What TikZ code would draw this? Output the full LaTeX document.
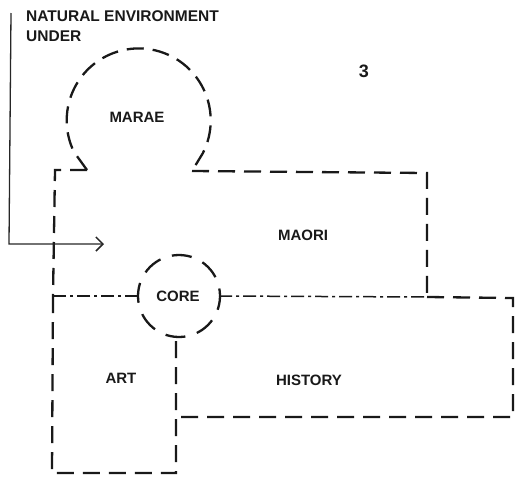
\documentclass[tikz,border=0pt]{standalone}
\usepackage{fontspec}
\setmainfont{Liberation Sans}
\usetikzlibrary{arrows.meta}
\tikzset{
  label/.style={font=\bfseries\fontsize{15}{18}\selectfont, inner sep=0pt, text=black!90},
  bound/.style={draw=black!90, line width=2.3pt, dash pattern=on 17pt off 9pt, line join=miter},
  seam/.style={draw=black!90, line width=1.5pt, dash pattern=on 13pt off 4pt on 3pt off 4pt},
  flow/.style={draw=black!85, line width=1.3pt, -{Straight Barb[length=7pt,width=14pt,line width=1.5pt]}}
}
\begin{document}
\begin{tikzpicture}[x=1pt,y=-1pt]
  \useasboundingbox (0,0) rectangle (519,480);

  % labels
  \node[label, anchor=north west, align=left, font=\bfseries\fontsize{15.5}{20}\selectfont] (nat) at (26,10) {NATURAL ENVIRONMENT\\UNDER};
  \node[label, font=\bfseries\fontsize{18}{20}\selectfont] (num) at (364,71) {3};
  \node[label] (marae) at (137,117) {MARAE};
  \node[label] (maori) at (303,235) {MAORI};
  \node[label] (core) at (178,296) {CORE};
  \node[label] (art) at (121,378) {ART};
  \node[label] (history) at (309,380) {HISTORY};

  % key points of the outlines
  \coordinate (mnL) at (87,170);
  \coordinate (mnR) at (192,171);
  \coordinate (mTL) at (55,170);
  \coordinate (mTR) at (427,173);
  \coordinate (mBR) at (427,297);
  \coordinate (aTL) at (53,296);
  \coordinate (aBL) at (52,473);
  \coordinate (aBR) at (176,473);
  \coordinate (aTR) at (176,337);
  \coordinate (hBL) at (176,417);
  \coordinate (hTR) at (513,298);
  \coordinate (hBR) at (513,417);
  \coordinate (cL) at (138,296);
  \coordinate (cR) at (219,296);

  % marae: open circle with a neck into the maori block
  \draw[bound] (mnL) -- (74,152) arc[start angle=154, end angle=387, radius=72] -- (mnR);

  % maori block
  \draw[bound] (mnL) -- (mTL) -- (aTL);
  \draw[bound] (mnR) -- (mTR) -- (mBR);

  % core circle
  \draw[bound, dash pattern=on 20pt off 12pt, dash phase=6pt] (179,296) circle[radius=41];

  % art block
  \draw[seam] (cL) -- (aTL);
  \draw[bound] (aTL) -- (aBL) -- (aBR) -- (aTR);

  % history block
  \draw[seam] (cR) -- (mBR);
  \draw[bound] (mBR) -- (hTR) -- (hBR) -- (hBL);

  % incoming arrow
  \coordinate (src) at (11,13);
  \coordinate (bend) at (9,244);
  \coordinate (tip) at (104,244);
  \draw[flow] (src) -- (bend) -- (tip);
\end{tikzpicture}
\end{document}
